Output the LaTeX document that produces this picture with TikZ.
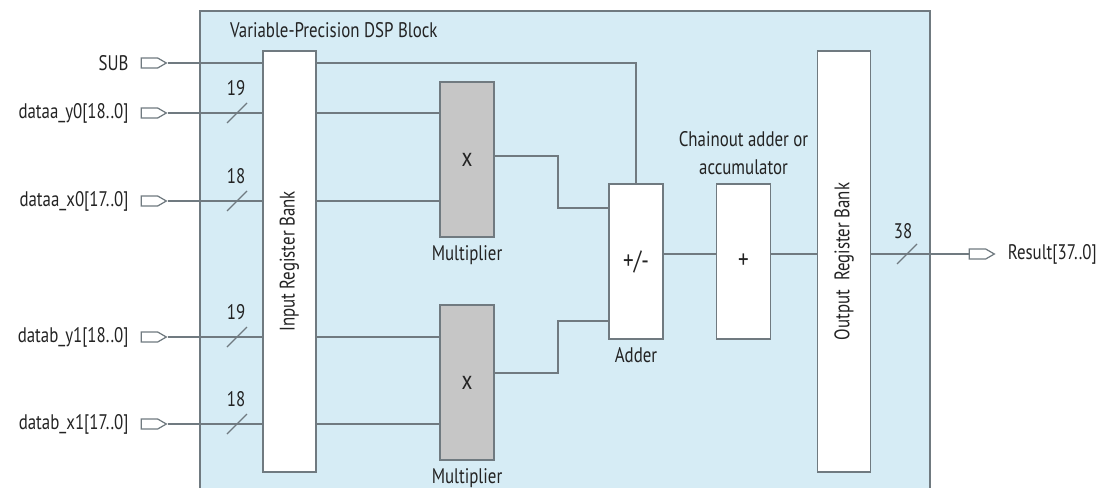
\documentclass[tikz,border=0pt]{standalone}
\usepackage{fontspec}
\setmainfont{PT Sans}[FakeStretch=0.8]
\usetikzlibrary{positioning, shapes.symbols}
\definecolor{dspblue}{RGB}{214,236,245}
\definecolor{wiregray}{RGB}{112,122,128}
\definecolor{mulgray}{RGB}{198,198,198}
\definecolor{txtgray}{RGB}{35,35,35}

\begin{document}
\begin{tikzpicture}[x=0.2mm, y=0.2mm, font=\fontsize{12}{16}\selectfont, text=txtgray,
  wire/.style={draw=wiregray, line width=0.7pt},
  regbank/.style={draw=wiregray, fill=white, line width=0.7pt, minimum width=10.6mm, minimum height=84.2mm, inner sep=0pt},
  opbox/.style={draw=wiregray, fill=white, line width=0.7pt, minimum width=10.8mm, minimum height=31mm, inner sep=0pt, font=\fontsize{15}{16}\selectfont},
  mulbox/.style={opbox, fill=mulgray},
  ioport/.style={signal, signal to=east, signal pointer angle=60, draw=wiregray, fill=white, line width=0.7pt, minimum width=5mm, minimum height=2mm, inner sep=0pt},
  busmark/.style={draw=wiregray, line width=0.7pt}]
  \useasboundingbox (0,0) rectangle (1096,488);

  % DSP block background (runs off the bottom edge)
  \fill[dspblue] (200,0) rectangle (930,477);
  \draw[wiregray, line width=0.7pt] (200,0) -- (200,477) -- (930,477) -- (930,0);
  \node[anchor=west] (title) at (224,458) {Variable-Precision DSP Block};

  % register banks and operators
  \node[regbank] (inbank) at (289.5,226.5) {};
  \node[rotate=90] at (inbank.center) {Input Register Bank};
  \node[regbank] (outbank) at (844,226.5) {};
  \node[rotate=90] at (outbank.center) {Output\ \ Register Bank};

  \node[mulbox] (mulA) at (467,328.5) {x};
  \node[below=0.4mm of mulA] (mulAlbl) {Multiplier};
  \node[mulbox] (mulB) at (467,105.5) {x};
  \node[below=0.4mm of mulB] (mulBlbl) {Multiplier};

  \node[opbox] (adder) at (636,226.5) {+/-};
  \node[below=0.4mm of adder] (adderlbl) {Adder};
  \node[opbox] (chain) at (743.5,226.5) {+};
  \node[above=0.4mm of chain, align=center] (chainlbl) {Chainout adder or\\accumulator};

  % SUB input
  \node[ioport] (sub) at (149.5,425) {};
  \node[left=1.2mm of sub] (sublbl) {SUB};
  \draw[wire] (sub.east) -- (sub.east -| inbank.west);
  \draw[wire] (sub.east -| inbank.east) -| (adder.north);

  % data inputs with bus widths
  \foreach \nm/\yy/\lbl/\bits in {ya/375/dataa\_y0[18..0]/19, xa/287/dataa\_x0[17..0]/18,
                                  yb/151/datab\_y1[18..0]/19, xb/64/datab\_x1[17..0]/18} {
    \node[ioport] (\nm) at (149.5,\yy) {};
    \node[left=1.2mm of \nm] (\nm lbl) {\lbl};
    \draw[wire] (\nm.east) -- (\nm.east -| inbank.west);
    \draw[busmark] (227,\yy-10) -- (247,\yy+10);
    \node (\nm bits) at (236,\yy+25) {\bits};
  }
  \draw[wire] (ya.east -| inbank.east) -- (ya.east -| mulA.west);
  \draw[wire] (xa.east -| inbank.east) -- (xa.east -| mulA.west);
  \draw[wire] (yb.east -| inbank.east) -- (yb.east -| mulB.west);
  \draw[wire] (xb.east -| inbank.east) -- (xb.east -| mulB.west);

  % multiplier outputs to adder
  \draw[wire] (mulA.east |- 0,332) -- (558,332) |- (adder.west |- 0,280);
  \draw[wire] (mulB.east |- 0,115) -- (558,115) |- (adder.west |- 0,167);

  % adder -> chainout -> output bank -> result
  \draw[wire] (adder.east |- 0,234) -- (chain.west |- 0,234);
  \draw[wire] (chain.east |- 0,234) -- (outbank.west |- 0,234);
  \node[ioport] (res) at (977.5,234) {};
  \node[right=1.2mm of res] (reslbl) {Result[37..0]};
  \draw[wire] (outbank.east |- res.west) -- (res.west);
  \draw[busmark] (897,224) -- (917,244);
  \node (resbits) at (903,257) {38};
\end{tikzpicture}
\end{document}
